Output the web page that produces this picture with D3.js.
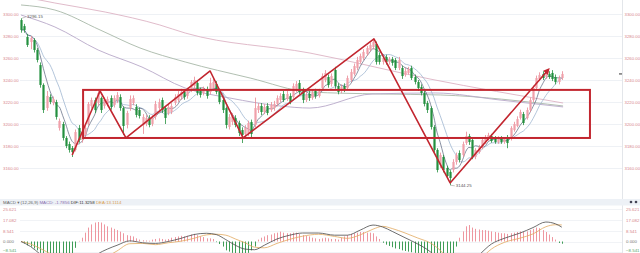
<!DOCTYPE html>
<html>
<head>
<meta charset="utf-8">
<style>
html,body{margin:0;padding:0;background:#fff;overflow:hidden}
svg{display:block}
text{font-family:"Liberation Sans","DejaVu Sans",Arial,sans-serif}
</style>
<script src="https://cdn.jsdelivr.net/npm/d3@7"></script>
</head>
<body>
<svg id="chart" width="640" height="253"></svg>
<script>
// ---- daily candles (index 0 = first visible session) ----
const opens = [
3294.5,3289.0,3279.1,3274.5,3276.4,3267.3,3253.6,3235.5,3214.5,3224.5,
3219.1,3220.0,3196.4,3200.0,3187.3,3181.8,3178.2,3176.4,3196.4,3185.5,
3190.0,3200.0,3216.4,3221.8,3219.1,3223.6,3216.4,3218.2,3223.6,3217.3,
3221.8,3224.5,3214.5,3199.1,3214.5,3219.1,3215.5,3212.7,3199.1,3200.0,
3205.5,3200.0,3206.4,3214.5,3221.8,3214.5,3210.0,3210.9,3219.1,3221.8,
3224.5,3229.1,3225.5,3230.9,3234.5,3237.3,3230.9,3228.2,3231.8,3229.1,
3232.7,3236.4,3230.0,3221.8,3214.5,3197.3,3201.8,3205.5,3200.9,3194.5,
3190.9,3191.8,3201.8,3199.1,3212.7,3216.4,3210.9,3216.4,3212.7,3214.5,
3218.2,3221.8,3227.3,3222.7,3225.5,3224.5,3230.9,3237.3,3230.9,3221.8,
3227.3,3223.6,3230.0,3225.5,3232.7,3240.0,3242.7,3236.4,3249.1,3234.5,
3230.0,3234.5,3232.7,3240.0,3245.5,3250.9,3256.4,3260.0,3263.6,3267.3,
3270.0,3272.7,3262.7,3256.4,3260.9,3256.4,3259.1,3258.2,3250.9,3250.9,
3244.5,3246.4,3250.9,3242.7,3238.2,3233.6,3228.2,3219.1,3214.5,3197.3,
3176.4,3162.7,3170.0,3160.0,3156.4,3158.2,3165.5,3173.6,3171.8,3182.7,
3189.1,3185.5,3170.0,3174.5,3179.1,3183.6,3186.4,3189.1,3187.3,3183.6,
3187.3,3183.6,3188.2,3187.3,3194.5,3198.2,3205.5,3209.1,3205.5,3212.7,
3221.8,3232.7,3240.9,3245.5,3242.7,3245.5,3246.4,3242.7,3238.2,3241.8
];
const highs = [
3296.15,3291,3282,3280,3278,3269,3256,3237,3230,3227,
3225,3222,3205,3202,3189,3184,3180,3195,3199,3194,
3198,3220,3224,3224,3231,3225,3224,3225,3226,3226,
3229,3227,3216,3212,3226,3226,3218,3215,3209,3208,
3208,3208,3221,3223,3224,3216,3218,3219,3227,3230,
3232,3231,3233,3240,3243,3240,3233,3234,3234,3242,
3241,3239,3232,3224,3216,3209,3210,3208,3203,3197,
3199,3203,3204,3224,3219,3219,3218,3219,3220,3221,
3226,3228,3230,3230,3228,3237,3239,3240,3233,3229,
3230,3231,3232,3232,3246,3249,3245,3246,3252,3237,
3236,3237,3244,3250,3255,3261,3264,3268,3271,3274,
3277.5,3275,3265,3262,3263,3261,3261,3260,3261,3253,
3251,3252,3253,3245,3240,3236,3230,3221,3216,3199,
3178,3174,3172,3162,3158,3168,3174,3176,3184,3193,
3191,3187,3178,3181,3188,3190,3192,3191,3189,3189,
3189,3188,3190,3198,3202,3207,3213,3211,3215,3224,
3235,3244,3247,3248,3249,3248,3249,3245,3244,3248
];
const lows = [
3283,3283,3270,3268,3265,3256,3233,3210,3212,3218,
3217,3204,3194,3185,3178,3174,3170,3175,3183,3183,
3188,3198,3214,3210,3217,3210,3214,3216,3213,3215,
3219,3212,3190,3196,3212,3217,3206,3205,3191,3198,
3197,3198,3204,3212,3210,3200,3208,3209,3217,3220,
3222,3222,3223,3229,3232,3226,3224,3226,3223,3227,
3230,3227,3218,3210,3196,3195,3199,3197,3189,3182.7,
3188,3189,3188,3197,3210,3208,3209,3208,3211,3212,
3216,3220,3220,3221,3218,3223,3229,3227,3219,3220,
3221,3222,3223,3224,3231,3238,3233,3234,3232,3227,
3228,3229,3231,3238,3244,3249,3255,3258,3262,3266,
3268,3254,3254,3254,3254,3254,3253,3249,3249,3241,
3243,3245,3240,3236,3230,3226,3216,3210,3195,3174,
3156,3160,3156,3150,3144.25,3156,3163,3165,3170,3181,
3181,3168,3168,3173,3177,3182,3185,3183,3182,3182,
3182,3182,3178,3185,3193,3197,3204,3199,3204,3211,
3220,3231,3239,3240,3241,3241,3239,3236,3236,3240
];
const closes = [
3285.5,3285.5,3271.8,3278.2,3267.3,3258.2,3235.5,3212.7,3225.5,3220.0,
3222.7,3206.4,3202.7,3187.3,3180.0,3176.4,3174.5,3192.7,3185.5,3191.8,
3196.4,3218.2,3221.8,3212.7,3228.2,3212.7,3221.8,3222.7,3215.5,3223.6,
3226.4,3214.5,3198.2,3210.0,3222.7,3223.6,3208.2,3207.3,3206.4,3205.5,
3199.1,3205.5,3218.2,3220.0,3212.7,3205.5,3215.5,3216.4,3224.5,3227.3,
3229.1,3224.5,3230.9,3238.2,3240.0,3228.2,3226.4,3231.8,3225.5,3237.3,
3238.2,3229.1,3220.0,3212.7,3199.1,3206.4,3207.3,3199.1,3191.8,3190.0,
3196.4,3200.9,3190.9,3214.5,3216.4,3210.9,3215.5,3210.0,3217.3,3218.2,
3223.6,3225.5,3221.8,3227.3,3220.0,3234.5,3236.4,3229.1,3221.8,3226.4,
3223.6,3228.2,3225.5,3230.0,3243.6,3246.4,3235.5,3243.6,3234.5,3229.1,
3233.6,3230.9,3241.8,3247.3,3252.7,3258.2,3261.8,3265.5,3269.1,3271.8,
3274.5,3256.4,3256.4,3260.0,3256.4,3259.1,3255.5,3250.9,3258.2,3243.6,
3248.2,3250.0,3241.8,3238.2,3232.7,3228.2,3218.2,3212.7,3197.3,3176.4,
3158.2,3171.8,3158.2,3152.7,3150.9,3165.5,3171.8,3167.3,3181.8,3189.1,
3183.6,3170.0,3176.4,3179.1,3185.5,3188.2,3190.0,3184.5,3183.6,3187.3,
3183.6,3186.4,3182.7,3196.4,3200.0,3204.5,3210.9,3200.9,3212.7,3221.8,
3232.7,3241.8,3244.5,3241.8,3246.4,3242.7,3240.9,3238.2,3241.8,3245.5
];

// long moving averages, read as [session index, value]
const maSlow = [[0,3316],[10.6,3310],[26.3,3301.8],[43.4,3290],[51.3,3282.7],[90.3,3264.5],[127.8,3240.9],[169.4,3219.1]];
const maMid  = [[0,3308.2],[10.6,3303.6],[24.7,3285.5],[37.2,3269.1],[51.3,3256.4],[71.6,3241.8],[90.3,3229.1],[112.2,3227.3],[131,3226.4],[169.4,3216.4]];
const maFast = [[0,3299.1],[10.6,3288.2],[24.1,3267.3],[37.8,3251.8],[51.3,3232.7],[65.3,3223.6],[80.9,3216.4],[90.3,3214.5],[109.7,3227.3],[129.4,3228.2],[149.7,3221.8],[169.4,3215.5]];

// hand-drawn trend annotations
const trendIdx = [16, 24.7, 32.8, 59.1, 69.4, 110.3, 134.1, 164.7];
const trendVal = [3171.8, 3230, 3187.3, 3248.2, 3187.3, 3277.3, 3146.4, 3249.1];
const boxIdx = [19.4, 177.8];
const boxVal = [3187.3, 3231];

// price axis ticks
const priceTicks = [3160, 3180, 3200, 3220, 3240, 3260, 3280, 3300];

// MACD(12,26,9)
const macdHist = [
0,-1.5,-3,-4,-5.5,-7,-9,-11,-12,-12,
-12.5,-13,-12.5,-13,-13,-12,-11,-5,0.5,3,
7,11,13.5,15,15.4,15,13.5,12,11,10,
9,7.8,6.5,5,4.5,4,2.5,1.5,1,0.8,
0.6,1.5,2,2.5,2,1.5,2,3,3.5,4,
4.5,4,4.5,5.5,6,5,4,3.5,2.5,2.5,
2,-0.5,-2,-4,-7,-8,-9,-10,-11,-11,
-10,-9,-7,-4,1.5,3,4,5,5.5,6.5,
7,7.8,7,6.5,6.5,7,7,6,5,4.5,
4,3,2.5,2,2.5,3,2.5,2,2,1.5,
3,4,5,6,6.5,7,7.5,7.5,7,7,
6.5,4,2,-1,-2.5,-3.5,-4.5,-5.5,-6,-7,
-7.5,-8,-8.5,-9,-9.5,-10,-11,-12,-14,-16,
-18,-18,-18,-17,-16,-10,-4,3,8,12,
13,11,10,9.5,9,9,8.5,8,7.5,7,
6.5,6.5,6,6.5,7,7.5,8,7.5,8,9,
10,11,10.5,9,7.5,5.5,3.5,1.5,-1.2,-1.7856
];
const difPts = [[0,0],[3,-4],[6,-10],[10,-17],[14,-22],[17,-24],[20,-20],[24,-10],[27,-6],[30,-3],[34,0.5],[38,-1],[42,-1.5],[46,0],[50,2.5],[54,5.5],[58,6.5],[61,5.5],[64,1.5],[67,-3],[70,-6],[73,-6.5],[76,-3],[80,2],[84,5],[88,6.7],[93,6.7],[98,5],[102,5],[106,9],[110,13],[113,11.5],[116,8],[120,3],[124,-2],[128,-8.3],[131,-16],[134,-24],[137,-24],[140,-18],[143,-11],[147,-2],[151,2.5],[156,6.7],[160,11],[164,15.4],[167,14],[169,11.3258]];
const deaPts = [[0,0],[3,-2],[6,-5.5],[10,-10.75],[14,-15.5],[17,-21],[20,-23.5],[24,-17.7],[27,-12],[30,-7.5],[34,-1.75],[38,-1.5],[42,-2.5],[46,-1],[50,0.25],[54,2.5],[58,5.25],[61,5.75],[64,5],[67,2],[70,-1],[73,-4.5],[76,-5],[80,-1.5],[84,1.75],[88,4.2],[93,5.7],[98,4],[102,2.5],[106,5.25],[110,9.75],[113,12],[116,10.25],[120,6.75],[124,2.75],[128,-1.3],[131,-7],[134,-16],[137,-25.5],[140,-24.5],[143,-15.75],[147,-6],[151,-0.75],[156,2.7],[160,6],[164,11.65],[167,13.25],[169,13.1114]];
const macdTicks = [-8.541, 0, 8.541, 17.082, 25.621];

// ---------------------------------------------------------------
const svg = d3.select("#chart");
const W = 640, H = 253;
const plotL = 20, plotR = 622, mainTop = 0, mainBot = 198;
const subTop = 206, subBot = 253;

const x = d3.scaleLinear().domain([0, 169]).range([21, 561.8]);
const y = d3.scaleLinear().domain([3160, 3300]).range([168, 14]);
const ym = d3.scaleLinear().domain([0, 25.621]).range([241.5, 209.1]);

const UP = "#f0a0aa", UPW = "#ea8893", DOWN = "#24903f";
const MARK = "#c2262f";

svg.append("rect").attr("width", W).attr("height", H).attr("fill", "#ffffff");

const defs = svg.append("defs");
defs.append("clipPath").attr("id", "clipMain").append("rect")
  .attr("x", plotL).attr("y", mainTop).attr("width", plotR - plotL).attr("height", mainBot - mainTop);
defs.append("clipPath").attr("id", "clipSub").append("rect")
  .attr("x", plotL).attr("y", subTop).attr("width", plotR - plotL).attr("height", subBot - subTop);
defs.append("marker").attr("id", "arrow").attr("viewBox", "0 0 10 10")
  .attr("refX", 6).attr("refY", 5).attr("markerWidth", 4).attr("markerHeight", 4)
  .attr("orient", "auto").append("path").attr("d", "M0,0L10,5L0,10Z").attr("fill", MARK);

// grid
svg.append("g").selectAll("line").data(priceTicks).join("line")
  .attr("x1", plotL).attr("x2", plotR)
  .attr("y1", d => Math.round(y(d)) + 0.5).attr("y2", d => Math.round(y(d)) + 0.5)
  .attr("stroke", "#eef1f5").attr("stroke-width", 1);
svg.append("line").attr("x1", plotR + 0.5).attr("x2", plotR + 0.5).attr("y1", 0).attr("y2", H)
  .attr("stroke", "#e3e6ea");

// price axis labels, both sides
const fmtP = d3.format(".2f");
const axL = d3.axisLeft(y).tickValues(priceTicks).tickFormat(fmtP).tickSize(0).tickPadding(0);
const axR = d3.axisRight(y).tickValues(priceTicks).tickFormat(fmtP).tickSize(0).tickPadding(0);
const gL = svg.append("g").attr("transform", "translate(3,0)").call(axL);
const gR = svg.append("g").attr("transform", `translate(${plotR + 2.5},0)`).call(axR);
[gL, gR].forEach(g => {
  g.select(".domain").remove();
  g.selectAll("text").attr("font-size", 4.3).attr("fill", "#d7868c").attr("text-anchor", "start");
});

const main = svg.append("g").attr("clip-path", "url(#clipMain)");

// long moving averages
const lineIdx = d3.line().x(d => x(d[0])).y(d => y(d[1])).curve(d3.curveMonotoneX);
[[maSlow, "#dcb3c4"], [maMid, "#a8b8a8"], [maFast, "#b8a8c8"]].forEach(([pts, c]) => {
  main.append("path").attr("d", lineIdx(pts)).attr("fill", "none").attr("stroke", c).attr("stroke-width", 0.9);
});

// short moving averages of the closes
const sma = n => closes.map((c, i) => d3.mean(closes.slice(Math.max(0, i - n + 1), i + 1)));
const lineSeries = d3.line().x((d, i) => x(i)).y(d => y(d)).curve(d3.curveMonotoneX);
main.append("path").attr("d", lineSeries(sma(10))).attr("fill", "none").attr("stroke", "#9fb6d0").attr("stroke-width", 0.8);
main.append("path").attr("d", lineSeries(sma(5))).attr("fill", "none").attr("stroke", "#56627a").attr("stroke-width", 0.7);

// candles
const idx = d3.range(closes.length);
const cg = main.append("g");
cg.selectAll("line.wick").data(idx).join("line").attr("class", "wick")
  .attr("x1", i => Math.round(x(i)) + 0.5).attr("x2", i => Math.round(x(i)) + 0.5)
  .attr("y1", i => y(highs[i])).attr("y2", i => y(lows[i]))
  .attr("stroke", i => closes[i] >= opens[i] ? UPW : DOWN).attr("stroke-width", 0.8);
cg.selectAll("rect.body").data(idx).join("rect").attr("class", "body")
  .attr("x", i => Math.round(x(i)) - 0.6).attr("width", 2.2)
  .attr("y", i => y(Math.max(opens[i], closes[i])))
  .attr("height", i => Math.max(0.8, Math.abs(y(opens[i]) - y(closes[i]))))
  .attr("fill", i => closes[i] >= opens[i] ? UP : DOWN);

// consolidation box and swing lines
main.append("rect")
  .attr("x", x(boxIdx[0])).attr("y", y(boxVal[1]))
  .attr("width", x(boxIdx[1]) - x(boxIdx[0])).attr("height", y(boxVal[0]) - y(boxVal[1]))
  .attr("fill", "none").attr("stroke", MARK).attr("stroke-width", 2);
main.append("path")
  .attr("d", d3.line()(trendIdx.map((t, i) => [x(t), y(trendVal[i])])))
  .attr("fill", "none").attr("stroke", MARK).attr("stroke-width", 1.6)
  .attr("stroke-linejoin", "round").attr("marker-end", "url(#arrow)");

// extreme labels
const hiI = d3.maxIndex(highs), loI = d3.minIndex(lows);
main.append("line").attr("x1", x(hiI) + 1).attr("x2", x(hiI) + 5)
  .attr("y1", y(highs[hiI])).attr("y2", y(highs[hiI]) - 1.5).attr("stroke", "#888").attr("stroke-width", 0.5);
main.append("text").attr("x", x(hiI) + 6).attr("y", y(highs[hiI]) - 0.3)
  .attr("font-size", 4.4).attr("fill", "#555").text(highs[hiI].toFixed(2));
main.append("line").attr("x1", x(loI) + 1).attr("x2", x(loI) + 5)
  .attr("y1", y(lows[loI])).attr("y2", y(lows[loI]) + 0.5).attr("stroke", "#888").attr("stroke-width", 0.5);
main.append("text").attr("x", x(loI) + 6).attr("y", y(lows[loI]) + 2)
  .attr("font-size", 4.4).attr("fill", "#555").text(lows[loI].toFixed(2));

// last price marker on the axis
svg.append("line").attr("x1", plotR - 3).attr("x2", plotR)
  .attr("y1", y(closes[closes.length - 1])).attr("y2", y(closes[closes.length - 1]))
  .attr("stroke", "#333").attr("stroke-width", 1);

// ---- MACD panel ----
svg.append("rect").attr("x", 0).attr("y", 199).attr("width", W).attr("height", 6.5).attr("fill", "#edf1f6");
const hdr = svg.append("text").attr("x", 3).attr("y", 204).attr("font-size", 4.4);
hdr.append("tspan").attr("fill", "#666").text("MACD ▾ (12,26,9)   ");
hdr.append("tspan").attr("fill", "#8a6fb0").text("MACD: " + macdHist[macdHist.length - 1].toFixed(4) + "   ");
hdr.append("tspan").attr("fill", "#333").text("DIF:" + difPts[difPts.length - 1][1].toFixed(4) + "   ");
hdr.append("tspan").attr("fill", "#d9a050").text("DEA:" + deaPts[deaPts.length - 1][1].toFixed(4));
svg.append("circle").attr("cx", 631).attr("cy", 202).attr("r", 1.3).attr("fill", "#445");
svg.append("circle").attr("cx", 636).attr("cy", 202).attr("r", 1.3).attr("fill", "#445");

svg.append("g").selectAll("line").data(macdTicks).join("line")
  .attr("x1", plotL).attr("x2", plotR)
  .attr("y1", d => Math.round(ym(d)) + 0.5).attr("y2", d => Math.round(ym(d)) + 0.5)
  .attr("stroke", "#f1f3f6");

const fmtM = d3.format(".3f");
const mColor = d => d > 0 ? "#d7868c" : d < 0 ? "#5aa56a" : "#777";
const maL = d3.axisLeft(ym).tickValues(macdTicks).tickFormat(fmtM).tickSize(0).tickPadding(0);
const maR = d3.axisRight(ym).tickValues(macdTicks).tickFormat(fmtM).tickSize(0).tickPadding(0);
const mL = svg.append("g").attr("transform", "translate(3,0)").call(maL);
const mR = svg.append("g").attr("transform", `translate(${plotR + 4},0)`).call(maR);
[mL, mR].forEach(g => {
  g.select(".domain").remove();
  g.selectAll("text").attr("font-size", 4.4).attr("text-anchor", "start").attr("fill", d => mColor(d));
  // keep the lowest label inside the frame
  g.selectAll(".tick").filter(d => d < 0).attr("transform", `translate(0,${Math.min(ym(-8.541), 250.6)})`);
});

const sub = svg.append("g").attr("clip-path", "url(#clipSub)");
sub.selectAll("line.bar").data(idx).join("line").attr("class", "bar")
  .attr("x1", i => Math.round(x(i)) + 0.5).attr("x2", i => Math.round(x(i)) + 0.5)
  .attr("y1", ym(0)).attr("y2", i => ym(macdHist[i]))
  .attr("stroke", i => macdHist[i] >= 0 ? "#ee97a0" : "#3f9d57").attr("stroke-width", 1);
const lineM = d3.line().x(d => x(d[0])).y(d => ym(d[1])).curve(d3.curveMonotoneX);
sub.append("path").attr("d", lineM(deaPts)).attr("fill", "none").attr("stroke", "#e2aa60").attr("stroke-width", 0.8);
sub.append("path").attr("d", lineM(difPts)).attr("fill", "none").attr("stroke", "#4a4a4a").attr("stroke-width", 0.8);
</script>
</body>
</html>
